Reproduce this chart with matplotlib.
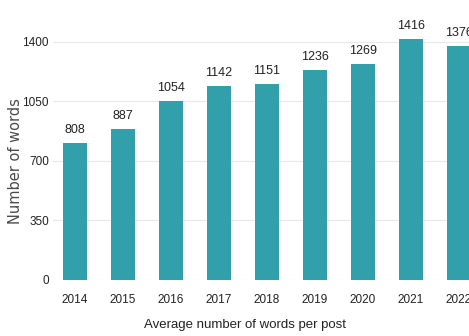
import matplotlib
matplotlib.use('Agg')
import matplotlib.pyplot as plt

# Average number of words per post, by year
years = ['2014', '2015', '2016', '2017', '2018', '2019', '2020', '2021', '2022']
words = [808, 887, 1054, 1142, 1151, 1236, 1269, 1416, 1376]
yticks = [0, 350, 700, 1050, 1400]

plt.rcParams['font.family'] = ['Liberation Sans', 'DejaVu Sans']

bar_color = '#31a0ab'
text_color = '#222222'

fig = plt.figure(figsize=(4.69, 3.36), dpi=100)
ax = fig.add_axes([53 / 469, 56 / 336, (469 - 53) / 469, 280 / 336])

x = range(len(years))
ax.bar(x, words, width=0.5, color=bar_color, zorder=2)

for xi, v in zip(x, words):
    ax.annotate(str(v), (xi, v), xytext=(0, 5), textcoords='offset points',
                ha='center', va='bottom', fontsize=9, color=text_color,
                annotation_clip=False)

ax.set_xlim(-0.45, 8.21)
ax.set_ylim(0, 1647)
ax.set_yticks(yticks)
ax.set_xticks(list(x))
ax.set_xticklabels(years)
ax.tick_params(axis='both', length=0, labelsize=8.5, colors=text_color)
ax.tick_params(axis='x', pad=10)
ax.tick_params(axis='y', pad=3)
ax.grid(axis='y', color='#e8e8e8', linewidth=0.8, zorder=0)
for s in ax.spines.values():
    s.set_visible(False)

fig.text(15 / 469, 1 - 161 / 336, 'Number of words', rotation=90,
         ha='center', va='center', fontsize=10.5, color='#4a4a4a',
         family=['DejaVu Sans'])
fig.text(245 / 469, 1 - 325 / 336, 'Average number of words per post',
         ha='center', va='center', fontsize=9.5, color=text_color)

fig.savefig('out.png', dpi=100)
